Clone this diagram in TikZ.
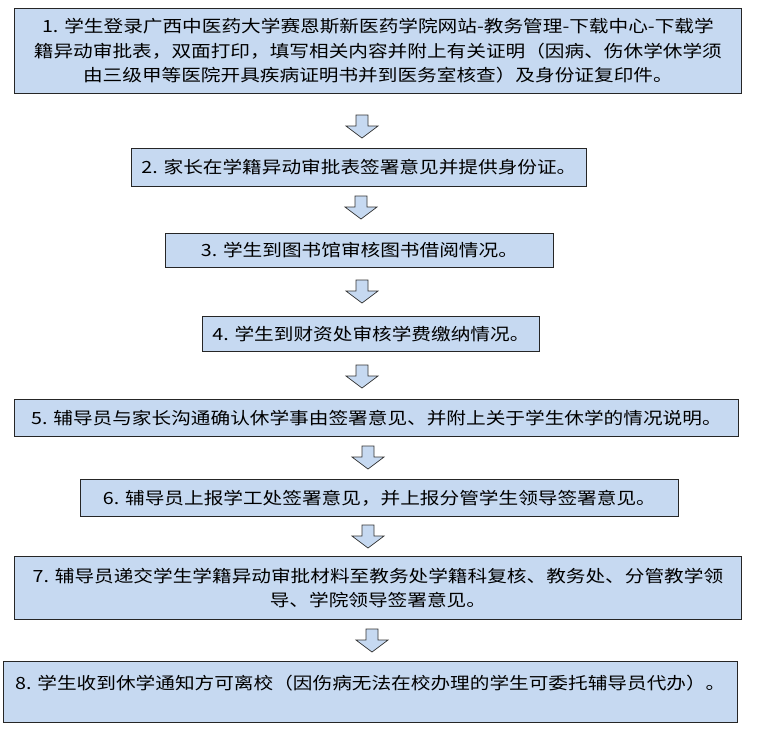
\documentclass[tikz,border=0pt]{standalone}
\usepackage{fontspec}
\newfontfamily\cjk[FakeStretch=1.17]{Noto Sans CJK SC}
\definecolor{boxfill}{HTML}{C6D9F1}
\tikzset{
 stepbox/.style={draw=black!85, line width=0.8pt, fill=boxfill, anchor=north west, inner sep=0pt, font=\cjk\fontsize{16.8}{24.5}\selectfont, align=center},
 blk/.style={draw=black!80, line width=0.7pt, fill=boxfill}
}
\newcommand{\blockarrow}[2]{%
 \draw[blk] (#1-6,#2) -- (#1+6,#2) -- (#1+6,#2+11) -- (#1+16,#2+11) -- (#1,#2+23) -- (#1-16,#2+11) -- (#1-6,#2+11) -- cycle;}
\begin{document}
\begin{tikzpicture}[x=1pt,y=-1pt]
\useasboundingbox (0,0) rectangle (759,732);
\node[stepbox, minimum width=727pt, minimum height=85pt] (s1) at (14,8) {1. 学生登录广西中医药大学赛恩斯新医药学院网站-教务管理-下载中心-下载学\\籍异动审批表，双面打印，填写相关内容并附上有关证明（因病、伤休学休学须\\由三级甲等医院开具疾病证明书并到医务室核查）及身份证复印件。};
\node[stepbox, minimum width=455pt, minimum height=38pt] (s2) at (131,148) {2. 家长在学籍异动审批表签署意见并提供身份证。};
\node[stepbox, minimum width=388pt, minimum height=34pt] (s3) at (165,233) {3. 学生到图书馆审核图书借阅情况。};
\node[stepbox, minimum width=337pt, minimum height=35pt] (s4) at (202,316) {4. 学生到财资处审核学费缴纳情况。};
\node[stepbox, minimum width=724pt, minimum height=37pt] (s5) at (14,399) {5. 辅导员与家长沟通确认休学事由签署意见、并附上关于学生休学的情况说明。};
\node[stepbox, minimum width=598pt, minimum height=37pt] (s6) at (80,479) {6. 辅导员上报学工处签署意见，并上报分管学生领导签署意见。};
\node[stepbox, minimum width=727pt, minimum height=63pt] (s7) at (14,556) {7. 辅导员递交学生学籍异动审批材料至教务处学籍科复核、教务处、分管教学领\\导、学院领导签署意见。};
\node[stepbox, minimum width=734pt, minimum height=61pt] (s8) at (3,661) {};
\node[anchor=west, font=\cjk\fontsize{16.8}{24.5}\selectfont, inner sep=0pt] (t8) at (15,683) {8. 学生收到休学通知方可离校（因伤病无法在校办理的学生可委托辅导员代办）。};
\blockarrow{362}{115}
\blockarrow{361}{196}
\blockarrow{362}{280}
\blockarrow{362}{365}
\blockarrow{368}{446}
\blockarrow{368}{525}
\blockarrow{372}{629}
\end{tikzpicture}
\end{document}
